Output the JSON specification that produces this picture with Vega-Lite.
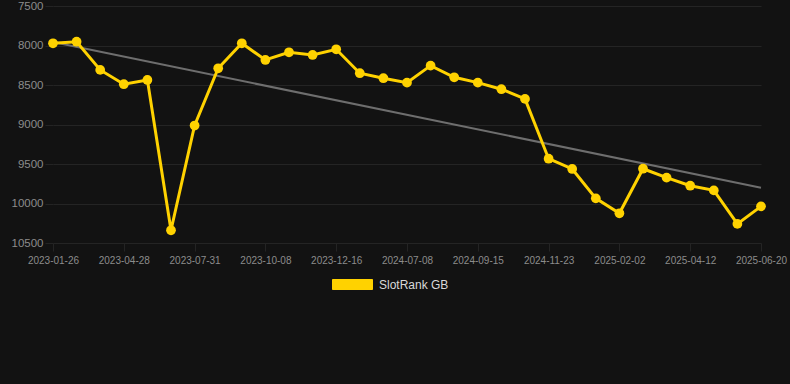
{
  "$schema": "https://vega.github.io/schema/vega-lite/v6.json",
  "width": 708,
  "height": 237,
  "autosize": {"type": "none"},
  "padding": {"left": 53, "top": 6, "right": 29, "bottom": 141},
  "background": "#121212",
  "config": {
    "view": {"stroke": null},
    "font": "Liberation Sans",
    "axis": {"domain": false, "gridColor": "#242424", "gridWidth": 1, "tickColor": "#242424", "tickSize": 8, "labelColor": "#8c8c8c", "labelFont": "Liberation Sans"}
  },
  "datasets": {
    "main": [
      {"date": "2023-01-26", "rank": 7972, "series": "SlotRank GB"},
      {"date": "2023-02-26", "rank": 7952, "series": "SlotRank GB"},
      {"date": "2023-03-28", "rank": 8309, "series": "SlotRank GB"},
      {"date": "2023-04-28", "rank": 8490, "series": "SlotRank GB"},
      {"date": "2023-05-30", "rank": 8436, "series": "SlotRank GB"},
      {"date": "2023-06-30", "rank": 10339, "series": "SlotRank GB"},
      {"date": "2023-07-31", "rank": 9013, "series": "SlotRank GB"},
      {"date": "2023-08-23", "rank": 8288, "series": "SlotRank GB"},
      {"date": "2023-09-15", "rank": 7972, "series": "SlotRank GB"},
      {"date": "2023-10-08", "rank": 8183, "series": "SlotRank GB"},
      {"date": "2023-10-31", "rank": 8086, "series": "SlotRank GB"},
      {"date": "2023-11-23", "rank": 8120, "series": "SlotRank GB"},
      {"date": "2023-12-16", "rank": 8048, "series": "SlotRank GB"},
      {"date": "2024-02-23", "rank": 8351, "series": "SlotRank GB"},
      {"date": "2024-05-01", "rank": 8414, "series": "SlotRank GB"},
      {"date": "2024-07-08", "rank": 8470, "series": "SlotRank GB"},
      {"date": "2024-07-31", "rank": 8255, "series": "SlotRank GB"},
      {"date": "2024-08-23", "rank": 8402, "series": "SlotRank GB"},
      {"date": "2024-09-15", "rank": 8470, "series": "SlotRank GB"},
      {"date": "2024-10-08", "rank": 8553, "series": "SlotRank GB"},
      {"date": "2024-10-31", "rank": 8676, "series": "SlotRank GB"},
      {"date": "2024-11-23", "rank": 9433, "series": "SlotRank GB"},
      {"date": "2024-12-17", "rank": 9563, "series": "SlotRank GB"},
      {"date": "2025-01-09", "rank": 9935, "series": "SlotRank GB"},
      {"date": "2025-02-02", "rank": 10124, "series": "SlotRank GB"},
      {"date": "2025-02-25", "rank": 9560, "series": "SlotRank GB"},
      {"date": "2025-03-20", "rank": 9673, "series": "SlotRank GB"},
      {"date": "2025-04-12", "rank": 9775, "series": "SlotRank GB"},
      {"date": "2025-05-05", "rank": 9834, "series": "SlotRank GB"},
      {"date": "2025-05-28", "rank": 10258, "series": "SlotRank GB"},
      {"date": "2025-06-20", "rank": 10036, "series": "SlotRank GB"}
    ],
    "trend": [
      {"date": "2023-01-26", "rank": 7956},
      {"date": "2025-06-20", "rank": 9800}
    ]
  },
  "encoding": {
    "x": {
      "field": "date", "type": "ordinal", "sort": "ascending",
      "scale": {"type": "point", "padding": 0},
      "axis": {
        "title": null, "labelAngle": 0, "labelFontSize": 10, "labelPadding": 4,
        "values": ["2023-01-26", "2023-04-28", "2023-07-31", "2023-10-08", "2023-12-16", "2024-07-08", "2024-09-15", "2024-11-23", "2025-02-02", "2025-04-12", "2025-06-20"]
      }
    },
    "y": {
      "field": "rank", "type": "quantitative",
      "scale": {"domain": [7500, 10500], "reverse": true, "nice": false, "zero": false},
      "axis": {"title": null, "values": [7500, 8000, 8500, 9000, 9500, 10000, 10500], "labelFontSize": 11.5, "labelPadding": 2, "format": "d"}
    }
  },
  "layer": [
    {
      "data": {"name": "trend"},
      "mark": {"type": "line", "color": "#6e6e6e", "strokeWidth": 2},
      "encoding": {}
    },
    {
      "data": {"name": "main"},
      "mark": {"type": "line", "strokeWidth": 3},
      "encoding": {
        "color": {
          "field": "series", "type": "nominal",
          "scale": {"domain": ["SlotRank GB"], "range": ["#FFD200"]},
          "legend": {
            "title": null, "orient": "none", "legendX": 279, "legendY": 258,
            "symbolType": "M-1,-0.25H1V0.25H-1Z", "symbolSize": 1600,
            "symbolFillColor": "#FFD200", "symbolStrokeColor": "#E0B400", "symbolStrokeWidth": 1, "symbolOpacity": 1,
            "labelColor": "#d9d9d9", "labelFontSize": 12, "labelFont": "Liberation Sans", "labelOffset": 6
          }
        }
      }
    },
    {
      "data": {"name": "main"},
      "mark": {"type": "point", "filled": true, "size": 95, "opacity": 1},
      "encoding": {
        "color": {"field": "series", "type": "nominal"}
      }
    }
  ]
}
